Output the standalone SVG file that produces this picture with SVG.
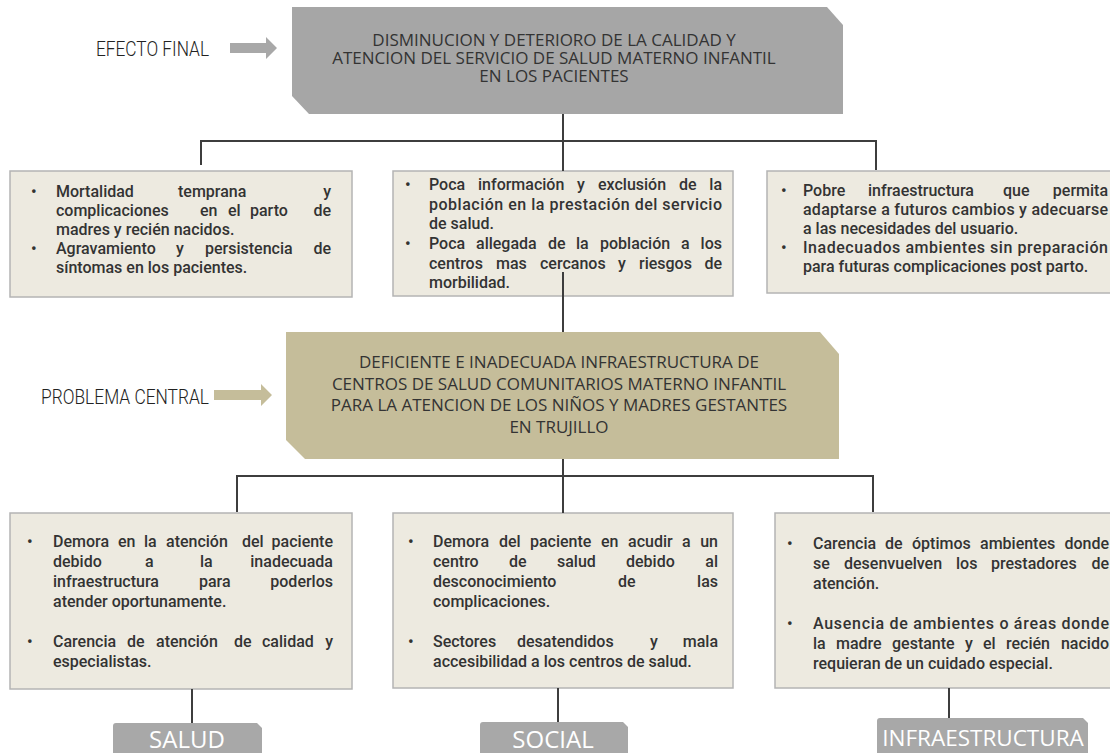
<svg xmlns="http://www.w3.org/2000/svg" width="1110" height="753" viewBox="0 0 1110 753">
<style>
.bx{fill:#edeae0;stroke:#b4b4b4;stroke-width:1.5}
.t{font-family:Roboto,"Liberation Sans",sans-serif;font-size:16px;font-weight:500;fill:#333}
.e{text-anchor:end}
.h{font-family:"Open Sans","Liberation Sans",sans-serif;font-size:17px;fill:#333;text-anchor:middle}
.side{font-family:Roboto,"Liberation Sans",sans-serif;font-weight:300;font-size:21px;fill:#222}
.lab{font-family:"Open Sans","Liberation Sans",sans-serif;fill:#fff;text-anchor:middle}
.conn{stroke:#3d3d3d;stroke-width:2;fill:none}
.tab{fill:#a8a8a8}
</style>

<g id="efecto-final-label">
<text class="side" x="96" y="56" textLength="113" lengthAdjust="spacingAndGlyphs">EFECTO FINAL</text>
<polygon points="230,43 266,43 266,37 277,48 266,59 266,53 230,53" fill="#a8a8a8"/>
</g>

<g id="efecto-final">
<path d="M292,7 L827,7 L843,25 L843,114 L309,114 L292,96 Z" fill="#a6a6a6"/>
<text class="h" x="554" y="46">DISMINUCION Y DETERIORO DE LA CALIDAD Y</text>
<text class="h" x="554" y="64">ATENCION DEL SERVICIO DE SALUD MATERNO INFANTIL</text>
<text class="h" x="554" y="82">EN LOS PACIENTES</text>
</g>

<g id="efecto-1">
<rect class="bx" x="10" y="171" width="342" height="126"/>
<text class="t" x="31" y="197">•</text>
<text class="t" y="197"><tspan x="56">Mortalidad</tspan><tspan x="178">temprana</tspan></text>
<text class="t e" x="331" y="197">y</text>
<text class="t" y="216"><tspan x="56">complicaciones</tspan><tspan x="200">en</tspan><tspan x="228">el</tspan><tspan x="250">parto</tspan></text>
<text class="t e" x="331" y="216">de</text>
<text class="t" x="56" y="235">madres y recién nacidos.</text>
<text class="t" x="31" y="254">•</text>
<text class="t" y="254"><tspan x="56">Agravamiento</tspan><tspan x="176">y</tspan><tspan x="205">persistencia</tspan></text>
<text class="t e" x="331" y="254">de</text>
<text class="t" x="56" y="273">síntomas en los pacientes.</text>
</g>

<g id="efecto-2">
<rect class="bx" x="393" y="171" width="340" height="125"/>
<text class="t" x="405" y="190">•</text>
<text class="t" y="190"><tspan x="429">Poca</tspan><tspan x="478">información</tspan><tspan x="577">y</tspan><tspan x="598">exclusión</tspan><tspan x="679">de</tspan></text>
<text class="t e" x="722" y="190">la</text>
<text class="t" x="429" y="209.5" textLength="293" lengthAdjust="spacing">población en la prestación del servicio</text>
<text class="t" x="429" y="229">de salud.</text>
<text class="t" x="405" y="249">•</text>
<text class="t" y="249"><tspan x="429">Poca</tspan><tspan x="476">allegada</tspan><tspan x="548">de</tspan><tspan x="576">la</tspan><tspan x="600">población</tspan><tspan x="681">a</tspan></text>
<text class="t e" x="722" y="249">los</text>
<text class="t" y="268.5"><tspan x="429">centros</tspan><tspan x="496">mas</tspan><tspan x="540">cercanos</tspan><tspan x="618">y</tspan><tspan x="639">riesgos</tspan></text>
<text class="t e" x="722" y="268.5">de</text>
<text class="t" x="429" y="288">morbilidad.</text>
</g>

<g id="efecto-3">
<rect class="bx" x="767" y="171" width="345" height="122"/>
<text class="t" x="781" y="196">•</text>
<text class="t" y="196"><tspan x="803">Pobre</tspan><tspan x="868">infraestructura</tspan><tspan x="1003">que</tspan></text>
<text class="t e" x="1108" y="196">permita</text>
<text class="t" x="803" y="215" textLength="305" lengthAdjust="spacing">adaptarse a futuros cambios y adecuarse</text>
<text class="t" x="803" y="234">a las necesidades del usuario.</text>
<text class="t" x="781" y="253">•</text>
<text class="t" x="803" y="253" textLength="305" lengthAdjust="spacing">Inadecuados ambientes sin preparación</text>
<text class="t" x="803" y="272">para futuras complicaciones post parto.</text>
</g>

<g id="problema-central-label">
<text class="side" x="41" y="404" textLength="168" lengthAdjust="spacingAndGlyphs">PROBLEMA CENTRAL</text>
<polygon points="214,390 261,390 261,384 272,395 261,406 261,400 214,400" fill="#c5bd9a"/>
</g>

<g id="problema-central">
<path d="M286,332 L820,332 L839,354 L839,459 L305,459 L286,440 Z" fill="#c5bd9a"/>
<text class="h" x="559" y="368">DEFICIENTE E INADECUADA INFRAESTRUCTURA DE</text>
<text class="h" x="559" y="389.5">CENTROS DE SALUD COMUNITARIOS MATERNO INFANTIL</text>
<text class="h" x="559" y="411">PARA LA ATENCION DE LOS NIÑOS Y MADRES GESTANTES</text>
<text class="h" x="559" y="432.5">EN TRUJILLO</text>
</g>

<g id="causa-salud">
<rect class="bx" x="10" y="513" width="342" height="176"/>
<text class="t" x="27" y="547">•</text>
<text class="t" y="547"><tspan x="53">Demora</tspan><tspan x="118">en</tspan><tspan x="144">la</tspan><tspan x="166">atención</tspan><tspan x="242">del</tspan></text>
<text class="t e" x="333" y="547">paciente</text>
<text class="t" y="567"><tspan x="53">debido</tspan><tspan x="145">a</tspan><tspan x="200">la</tspan></text>
<text class="t e" x="333" y="567">inadecuada</text>
<text class="t" y="587"><tspan x="53">infraestructura</tspan><tspan x="199">para</tspan></text>
<text class="t e" x="333" y="587">poderlos</text>
<text class="t" x="53" y="607">atender oportunamente.</text>
<text class="t" x="27" y="647">•</text>
<text class="t" y="647"><tspan x="53">Carencia</tspan><tspan x="127">de</tspan><tspan x="156">atención</tspan><tspan x="234">de</tspan><tspan x="262">calidad</tspan></text>
<text class="t e" x="333" y="647">y</text>
<text class="t" x="53" y="667">especialistas.</text>
</g>

<g id="causa-social">
<rect class="bx" x="393" y="513" width="340" height="175"/>
<text class="t" x="408" y="547">•</text>
<text class="t" y="547"><tspan x="433">Demora</tspan><tspan x="499">del</tspan><tspan x="530">paciente</tspan><tspan x="601">en</tspan><tspan x="628">acudir</tspan><tspan x="682">a</tspan></text>
<text class="t e" x="718" y="547">un</text>
<text class="t" y="567"><tspan x="433">centro</tspan><tspan x="509">de</tspan><tspan x="557">salud</tspan><tspan x="626">debido</tspan></text>
<text class="t e" x="718" y="567">al</text>
<text class="t" y="587"><tspan x="433">desconocimiento</tspan><tspan x="618">de</tspan></text>
<text class="t e" x="718" y="587">las</text>
<text class="t" x="433" y="607">complicaciones.</text>
<text class="t" x="408" y="647">•</text>
<text class="t" y="647"><tspan x="433">Sectores</tspan><tspan x="517">desatendidos</tspan><tspan x="650">y</tspan></text>
<text class="t e" x="718" y="647">mala</text>
<text class="t" x="433" y="667">accesibilidad a los centros de salud.</text>
</g>

<g id="causa-infraestructura">
<rect class="bx" x="775" y="513" width="337" height="175"/>
<text class="t" x="787" y="549">•</text>
<text class="t" y="549"><tspan x="813">Carencia</tspan><tspan x="885">de</tspan><tspan x="912">óptimos</tspan><tspan x="980">ambientes</tspan></text>
<text class="t e" x="1109" y="549">donde</text>
<text class="t" y="569"><tspan x="813">se</tspan><tspan x="844">desenvuelven</tspan><tspan x="956">los</tspan><tspan x="991">prestadores</tspan></text>
<text class="t e" x="1109" y="569">de</text>
<text class="t" x="813" y="589">atención.</text>
<text class="t" x="787" y="629">•</text>
<text class="t" x="813" y="629" textLength="296" lengthAdjust="spacing">Ausencia de ambientes o áreas donde</text>
<text class="t" y="649"><tspan x="813">la</tspan><tspan x="836">madre</tspan><tspan x="892">gestante</tspan><tspan x="965">y</tspan><tspan x="983">el</tspan><tspan x="1006">recién</tspan></text>
<text class="t e" x="1109" y="649">nacido</text>
<text class="t" x="813" y="669">requieran de un cuidado especial.</text>
</g>

<g id="tab-salud">
<path class="tab" d="M113,753 V726 Q113,723 116,723 H257 L262,728 V753 Z"/>
<text class="lab" x="187" y="748" font-size="24">SALUD</text>
</g>
<g id="tab-social">
<path class="tab" d="M480,753 V725 Q480,722 483,722 H623 L628,727 V753 Z"/>
<text class="lab" x="553" y="748" font-size="24">SOCIAL</text>
</g>
<g id="tab-infraestructura">
<path class="tab" d="M877,753 V721 Q877,718 880,718 H1083 L1088,723 V753 Z"/>
<text class="lab" x="983" y="746" font-size="22.5">INFRAESTRUCTURA</text>
</g>

<g id="connectors" class="conn">
<path d="M563,114 V171"/>
<path d="M201,165 V141 H876 V170"/>
<path d="M563,272 V332"/>
<path d="M563,459 V513"/>
<path d="M237,512 V476 H873 V512"/>
<path d="M192,689 V723"/>
<path d="M558,688 V722"/>
<path d="M949,688 V718"/>
</g>
</svg>
